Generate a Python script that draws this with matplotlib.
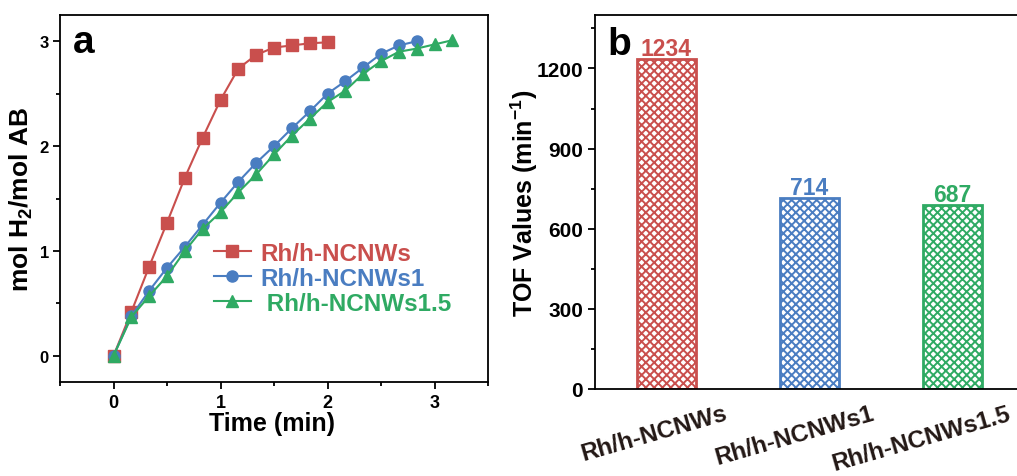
import matplotlib
matplotlib.use('Agg')
import matplotlib.pyplot as plt
from matplotlib.ticker import MultipleLocator
from matplotlib.transforms import ScaledTranslation

# fonts: bold Arial-like everywhere
plt.rcParams['font.family'] = ['Liberation Sans', 'DejaVu Sans']
plt.rcParams['font.weight'] = 'bold'
plt.rcParams['mathtext.fontset'] = 'custom'
plt.rcParams['mathtext.rm'] = 'Liberation Sans:bold'
plt.rcParams['mathtext.bf'] = 'Liberation Sans:bold'
plt.rcParams['mathtext.default'] = 'bf'
plt.rcParams['hatch.linewidth'] = 1.4

# ---- data (a): H2 evolution vs time ----
time_min = [0, 0.167, 0.333, 0.5, 0.667, 0.833, 1.0, 1.167, 1.333, 1.5,
            1.667, 1.833, 2.0, 2.167, 2.333, 2.5, 2.667, 2.833, 3.0, 3.167]
h2_ncnws = [0, 0.42, 0.85, 1.27, 1.70, 2.08, 2.44, 2.74, 2.87, 2.94,
            2.96, 2.98, 2.99]
h2_ncnws1 = [0, 0.38, 0.62, 0.84, 1.04, 1.25, 1.46, 1.66, 1.84, 2.00,
             2.17, 2.33, 2.50, 2.62, 2.75, 2.88, 2.96, 3.00]
h2_ncnws15 = [0, 0.37, 0.57, 0.76, 1.00, 1.21, 1.37, 1.56, 1.73, 1.92,
              2.10, 2.26, 2.42, 2.53, 2.69, 2.81, 2.90, 2.93, 2.97, 3.01]

# ---- data (b): TOF values ----
catalysts = ['Rh/h-NCNWs', 'Rh/h-NCNWs1', 'Rh/h-NCNWs1.5']
tof_values = [1234, 714, 687]

colors = ['#C94F4D', '#4A7DC1', '#2FAA63']

fig = plt.figure(figsize=(10.17, 4.77), dpi=100)

# ---------------- panel a ----------------
ax1 = fig.add_axes([0.059, 0.197, 0.4209, 0.7694])
series = [(h2_ncnws, 's', 'Rh/h-NCNWs'),
          (h2_ncnws1, 'o', 'Rh/h-NCNWs1'),
          (h2_ncnws15, '^', ' Rh/h-NCNWs1.5')]
for (vals, mk, lab), c in zip(series, colors):
    ax1.plot(time_min[:len(vals)], vals, marker=mk, color=c, lw=1.5,
             ms=8 if mk != '^' else 9, label=lab)

ax1.set_xlim(-0.5, 3.5)
ax1.set_ylim(-0.25, 3.25)
ax1.xaxis.set_major_locator(MultipleLocator(1))
ax1.xaxis.set_minor_locator(MultipleLocator(0.5))
ax1.yaxis.set_major_locator(MultipleLocator(1))
ax1.yaxis.set_minor_locator(MultipleLocator(0.5))
ax1.tick_params(which='major', direction='out', length=5, width=1.3,
                labelsize=13)
ax1.tick_params(axis='y', which='major', labelsize=12, pad=3)
ax1.tick_params(which='minor', direction='out', length=3, width=1.3)
for sp in ax1.spines.values():
    sp.set_linewidth(1.3)

ax1.set_xlabel('Time (min)', fontsize=18, fontweight='bold')
ax1.set_ylabel('mol H$_2$/mol AB', fontsize=19, fontweight='bold')
ax1.xaxis.set_label_coords(0.495, -0.08)
ax1.yaxis.set_label_coords(-0.058, 0.5)

leg = ax1.legend(loc='center left', bbox_to_anchor=(0.36, 0.283), frameon=False,
                 fontsize=17.5, handlelength=1.5, handletextpad=0.4,
                 labelspacing=0.08, borderpad=0, borderaxespad=0)
for txt, c in zip(leg.get_texts(), colors):
    txt.set_color(c)

ax1.text(0.03, 0.899, 'a', transform=ax1.transAxes, fontsize=28,
         fontweight='bold', va='baseline')

# ---------------- panel b ----------------
ax2 = fig.add_axes([0.585, 0.1824, 0.4218, 0.784])
x = list(range(len(catalysts)))
bars = ax2.bar(x, tof_values, width=0.41, color='white', edgecolor=colors,
               hatch='xxxx', linewidth=2)
for xi, v, c in zip(x, tof_values, colors):
    ax2.annotate(str(v), (xi, v), xytext=(0, 3), textcoords='offset points',
                 ha='center', va='baseline', color=c, fontsize=16.5,
                 fontweight='bold')

ax2.set_xlim(-0.5, 2.5)
ax2.set_ylim(0, 1400)
ax2.yaxis.set_major_locator(MultipleLocator(300))
ax2.yaxis.set_minor_locator(MultipleLocator(150))
ax2.tick_params(axis='y', which='major', direction='out', length=5, width=1.3,
                labelsize=15)
ax2.tick_params(axis='y', which='minor', direction='out', length=3, width=1.3)
ax2.tick_params(axis='x', length=0, pad=9)
ax2.set_xticks(x, catalysts, rotation=16, ha='center', fontsize=17.5,
               color='#231815')
shifts = [-12, -15, -31]
for lbl, dx in zip(ax2.get_xticklabels(), shifts):
    lbl.set_transform(lbl.get_transform() +
                      ScaledTranslation(dx / 100, 0, fig.dpi_scale_trans))
for sp in ax2.spines.values():
    sp.set_linewidth(1.3)

ax2.set_ylabel('TOF Values (min$^{-1}$)', fontsize=18, fontweight='bold')
ax2.yaxis.set_label_coords(-0.128, 0.5)

ax2.text(0.03, 0.896, 'b', transform=ax2.transAxes, fontsize=28,
         fontweight='bold', va='baseline')

fig.savefig('out.png', dpi=100)
